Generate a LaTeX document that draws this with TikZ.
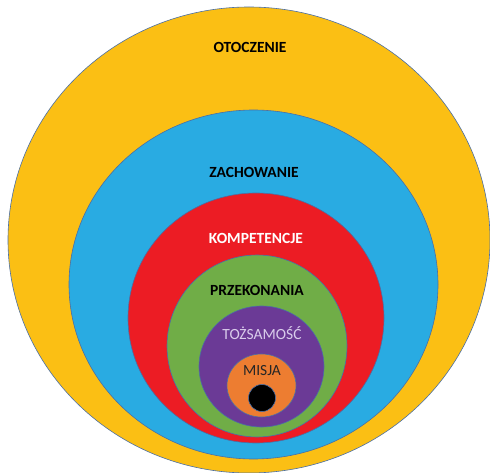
\documentclass[tikz,border=0pt]{standalone}
\usepackage{fontspec}
\setmainfont{Carlito}
\definecolor{cyellow}{HTML}{FBBF14}
\definecolor{cblue}{HTML}{29ABE2}
\definecolor{cred}{HTML}{EC1C24}
\definecolor{cgreen}{HTML}{70AD47}
\definecolor{cpurple}{HTML}{6B3A96}
\definecolor{corange}{HTML}{ED7D31}
\definecolor{cedge}{HTML}{4A6FA5}
\definecolor{clavender}{HTML}{D9CCEB}
\begin{document}
\begin{tikzpicture}[x=1pt,y=-1pt,
  ring/.style={draw=cedge,line width=0.6pt},
  lbl/.style={font=\fontsize{15.5}{17}\selectfont\bfseries,inner sep=0pt},
  lblr/.style={font=\fontsize{15.5}{17}\selectfont,inner sep=0pt}]
\useasboundingbox (0,0) rectangle (490,473);
\begin{scope}
\clip (0,0) rectangle (490,473);
\path[ring,fill=cyellow] (249,240) ellipse [x radius=241,y radius=233];
\end{scope}
\path[ring,fill=cblue] (253.5,284.5) ellipse [x radius=184.5,y radius=174.5];
\path[ring,fill=cred] (256,318) ellipse [x radius=128,y radius=125];
\path[ring,fill=cgreen] (257,346) ellipse [x radius=90,y radius=91];
\path[ring,fill=cpurple] (261.5,366.5) ellipse [x radius=62.5,y radius=60.5];
\path[ring,fill=corange] (261.5,385.5) ellipse [x radius=34.5,y radius=31.5];
\path[ring,fill=black] (262,398) circle [radius=13.5];
\node[lbl,text=black] (otoczenie) at (250,47) {OTOCZENIE};
\node[lbl,text=black] (zachowanie) at (254,172) {ZACHOWANIE};
\node[lbl,text=white] (kompetencje) at (256,238) {KOMPETENCJE};
\node[lbl,text=black] (przekonania) at (257,290) {PRZEKONANIA};
\node[lblr,text=clavender] (tozsamosc) at (262,333) {TOŻSAMOŚĆ};
\node[lblr,text=black!85] (misja) at (262,371) {MISJA};
\end{tikzpicture}
\end{document}
